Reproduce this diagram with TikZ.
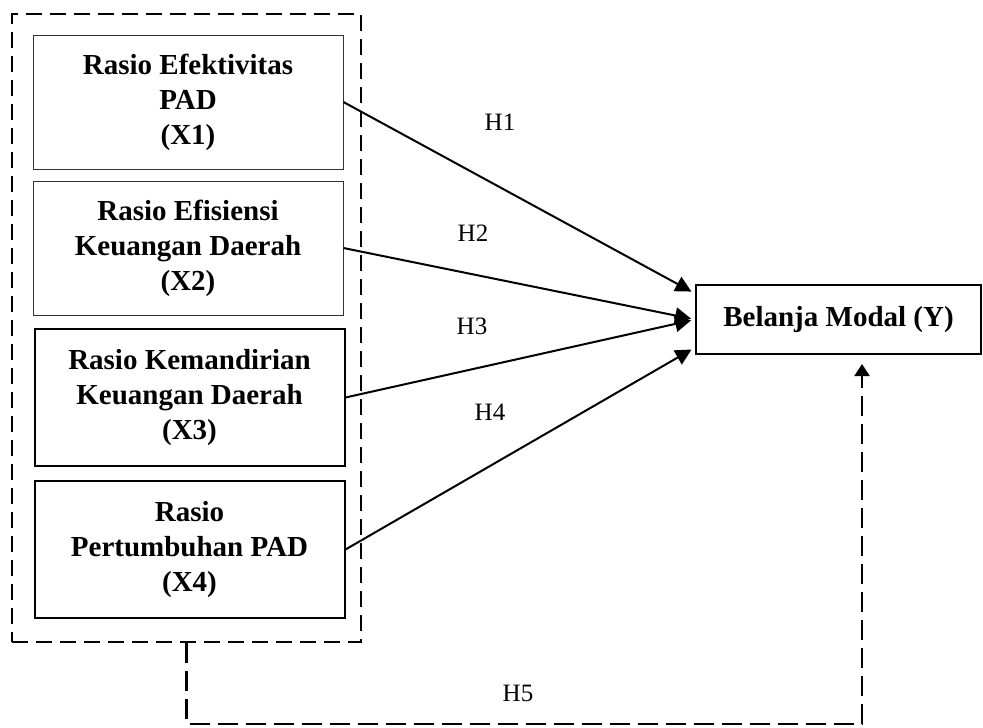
\documentclass[tikz,border=0pt]{standalone}
\usepackage{fontspec}
\setmainfont{Liberation Serif}
\usetikzlibrary{arrows.meta}

\begin{document}
\begin{tikzpicture}[x=0.5pt,y=-0.5pt]
\tikzset{varbox/.style={draw,align=center,inner sep=0pt,font=\fontsize{14.5}{17.5}\selectfont\bfseries,minimum width=155pt,minimum height=67pt},
hlabel/.style={font=\fontsize{12.5}{15}\selectfont},
link/.style={line width=1pt,shorten >=2pt,-{Triangle[length=8pt,width=8pt]}},
grouplink/.style={line width=1.1pt,dash pattern=on 10pt off 4pt,shorten >=4.5pt,-{Triangle[length=6pt,width=7.5pt]}}}
\useasboundingbox (0,0) rectangle (983,727);
% kelompok variabel X
\node[draw,line width=1.2pt,dash pattern=on 8pt off 4pt,minimum width=174.5pt,minimum height=314pt,inner sep=0pt] (grp) at (186.5,328) {};
\node[varbox,line width=0.4pt,draw=black!80] (x1) at (188,102) {Rasio Efektivitas\\PAD\\(X1)};
\node[varbox,line width=0.4pt,draw=black!80] (x2) at (188,248) {Rasio Efisiensi\\Keuangan Daerah\\(X2)};
\node[varbox,line width=1pt,minimum height=68.5pt] (x3) at (189.5,397.5) {Rasio Kemandirian\\Keuangan Daerah\\(X3)};
\node[varbox,line width=1pt,minimum height=68.5pt] (x4) at (189.5,549.5) {Rasio\\Pertumbuhan PAD\\(X4)};
% variabel Y
\node[varbox,line width=1pt,minimum width=142.5pt,minimum height=34.5pt] (y) at (838.5,319.5) {Belanja Modal (Y)};
% hipotesis
\draw[link] (x1.east) -- ([yshift=13pt]y.west);
\draw[link] (x2.east) -- (y.west);
\draw[link] (x3.east) -- (y.west);
\draw[link] (x4.east) -- ([yshift=-14pt]y.west);
\node[hlabel] (h1) at (500,122) {H1};
\node[hlabel] (h2) at (473,233) {H2};
\node[hlabel] (h3) at (472,326) {H3};
\node[hlabel] (h4) at (490,412) {H4};
\coordinate (h5corner) at (862,724);
\draw[grouplink] (grp.south) |- (h5corner) -- (y.south -| h5corner);
\node[hlabel] (h5) at (518,693) {H5};
\end{tikzpicture}
\end{document}
